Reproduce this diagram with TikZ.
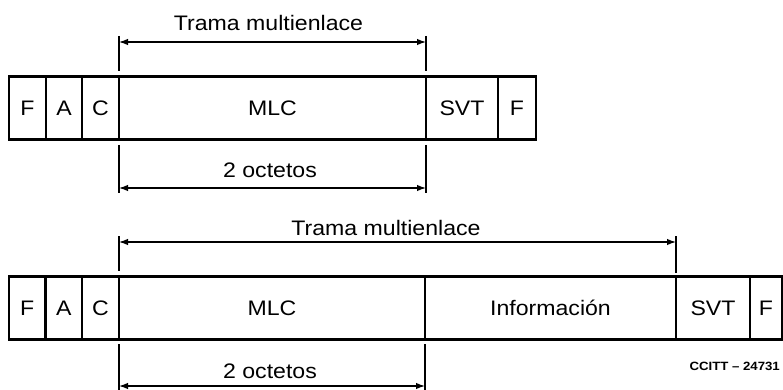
\documentclass[tikz,border=0pt]{standalone}
\usepackage{fontspec}
\setmainfont{Liberation Sans}[FakeStretch=1.1]
\usetikzlibrary{arrows.meta}
\begin{document}
\begin{tikzpicture}[x=1pt,y=-1pt,
  field/.style={draw,line width=2.4pt,minimum height=63pt,inner sep=0pt,
    font=\fontsize{21}{21}\selectfont},
  lbl/.style={anchor=base,inner sep=0pt,font=\fontsize{21}{21}\selectfont},
  extline/.style={line width=1.3pt},
  dimarrow/.style={line width=1.3pt,{Latex[length=9pt,width=6.5pt]}-{Latex[length=9pt,width=6.5pt]}}]
\useasboundingbox (0,0) rectangle (783,390);

% ---- upper frame ----
\node[field,minimum width=37pt]  (uF1)  at (27.5,108)  {F};
\node[field,minimum width=36pt]  (uA)   at (64,108)    {A};
\node[field,minimum width=37pt]  (uC)   at (100.5,108) {C};
\node[field,minimum width=307pt] (uMLC) at (272.5,108) {MLC};
\node[field,minimum width=72pt]  (uSVT) at (462,108)   {SVT};
\node[field,minimum width=38pt]  (uF2)  at (517,108)   {F};

% dimension: Trama multienlace
\coordinate (u1a) at (119,36);  \coordinate (u1b) at (119,71);
\coordinate (u2a) at (426,36);  \coordinate (u2b) at (426,71);
\coordinate (uar1) at (119,42); \coordinate (uar2) at (426,42);
\draw[extline] (u1a) -- (u1b);
\draw[extline] (u2a) -- (u2b);
\draw[dimarrow] (uar1) -- (uar2);
\node[lbl] (uTrama) at (268.5,31) {Trama multienlace};

% dimension: 2 octetos
\coordinate (u3a) at (119,145); \coordinate (u3b) at (119,193);
\coordinate (u4a) at (426,145); \coordinate (u4b) at (426,193);
\coordinate (uar3) at (119,188); \coordinate (uar4) at (426,188);
\draw[extline] (u3a) -- (u3b);
\draw[extline] (u4a) -- (u4b);
\draw[dimarrow] (uar3) -- (uar4);
\node[lbl] (uOct) at (270,177) {2 octetos};

% ---- lower frame ----
\node[field,minimum width=36.5pt] (lF1)  at (27.25,308) {F};
\node[field,minimum width=36.5pt] (lA)   at (63.75,308) {A};
\node[field,minimum width=37pt]   (lC)   at (100.5,308) {C};
\node[field,minimum width=306pt]  (lMLC) at (272,308)   {MLC};
\node[field,minimum width=251pt]  (lInf) at (550.5,308) {Información};
\node[field,minimum width=74pt]   (lSVT) at (713,308)   {SVT};
\node[field,minimum width=32pt]   (lF2)  at (766,308)   {F};

% dimension: Trama multienlace
\coordinate (l1a) at (119,236);  \coordinate (l1b) at (119,271);
\coordinate (l2a) at (676,236);  \coordinate (l2b) at (676,273);
\coordinate (lar1) at (119,242); \coordinate (lar2) at (676,242);
\draw[extline] (l1a) -- (l1b);
\draw[extline] (l2a) -- (l2b);
\draw[dimarrow] (lar1) -- (lar2);
\node[lbl] (lTrama) at (386,235) {Trama multienlace};

% dimension: 2 octetos
\coordinate (l3a) at (119,344); \coordinate (l3b) at (119,390);
\coordinate (l4a) at (425,344); \coordinate (l4b) at (425,390);
\coordinate (lar3) at (119,386); \coordinate (lar4) at (425,386);
\draw[extline] (l3a) -- (l3b);
\draw[extline] (l4a) -- (l4b);
\draw[dimarrow] (lar3) -- (lar4);
\node[lbl] (lOct) at (270,378) {2 octetos};

% figure reference
\node[anchor=base east,inner sep=0pt,font=\fontsize{12}{12}\selectfont\bfseries]
  (ref) at (780,370) {CCITT -- 24731};
\end{tikzpicture}
\end{document}
